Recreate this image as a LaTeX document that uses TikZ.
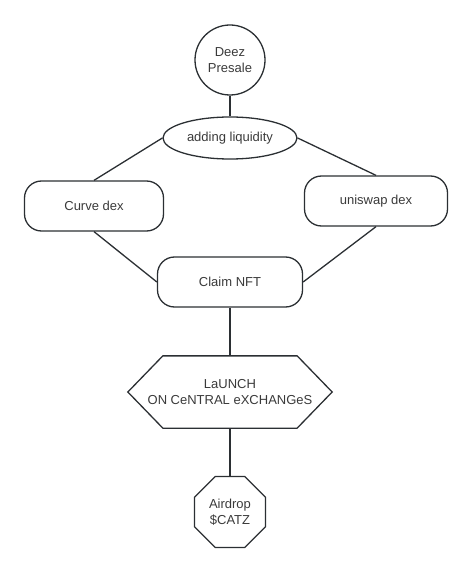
\documentclass[tikz,border=0pt]{standalone}
\usepackage{fontspec}
\setmainfont{Liberation Sans}
\usetikzlibrary{shapes.geometric}
\definecolor{edgegray}{HTML}{2B2F33}
\definecolor{textgray}{HTML}{3A3A3A}

\tikzset{
  box/.style={draw=edgegray, line width=1.3pt, text=textgray, font=\fontsize{13}{15.5}\selectfont, align=center, inner sep=2pt},
  pill/.style={box, rectangle, rounded corners=17pt, minimum height=50pt},
  link/.style={draw=edgegray, line width=1.3pt, line join=miter}
}

\begin{document}
\begin{tikzpicture}[x=1pt, y=-1pt]
    \useasboundingbox (0,0) rectangle (474,572);

    % draw nodes
    \node[box, circle, minimum size=70pt] (presale) at (230,60) {Deez\\Presale};
    \node[box, ellipse, minimum width=134pt, minimum height=42pt] (liquidity) at (230,138) {adding liquidity};
    \node[pill, minimum width=139pt] (curve) at (94,206) {Curve dex};
    \node[pill, minimum width=143pt] (uniswap) at (376,201) {uniswap dex};
    \node[pill, minimum width=145pt] (claim) at (230,282) {Claim NFT};
    \node[box, draw=none, minimum width=203pt, minimum height=71pt] (launch) at (230,392) {LaUNCH\\ON CeNTRAL eXCHANGeS};
    \node[box, regular polygon, regular polygon sides=8, minimum size=77pt, inner sep=0pt] (airdrop) at (230,512) {Airdrop\\\$CATZ};

    % draw hexagon round launch
    \draw[link] (launch.west) -- ([xshift=35pt]launch.north west) -- ([xshift=-35pt]launch.north east)
      -- (launch.east) -- ([xshift=-35pt]launch.south east) -- ([xshift=35pt]launch.south west) -- cycle;

    % draw lines
    \draw[link] (presale) -- (liquidity);
    \draw[link] (liquidity.west) -- (curve.north);
    \draw[link] (liquidity.east) -- (uniswap.north);
    \draw[link] (curve.south) -- (claim.west);
    \draw[link] (uniswap.south) -- (claim.east);
    \draw[link] (claim) -- (launch);
    \draw[link] (launch) -- (airdrop);

  \end{tikzpicture}
\end{document}
